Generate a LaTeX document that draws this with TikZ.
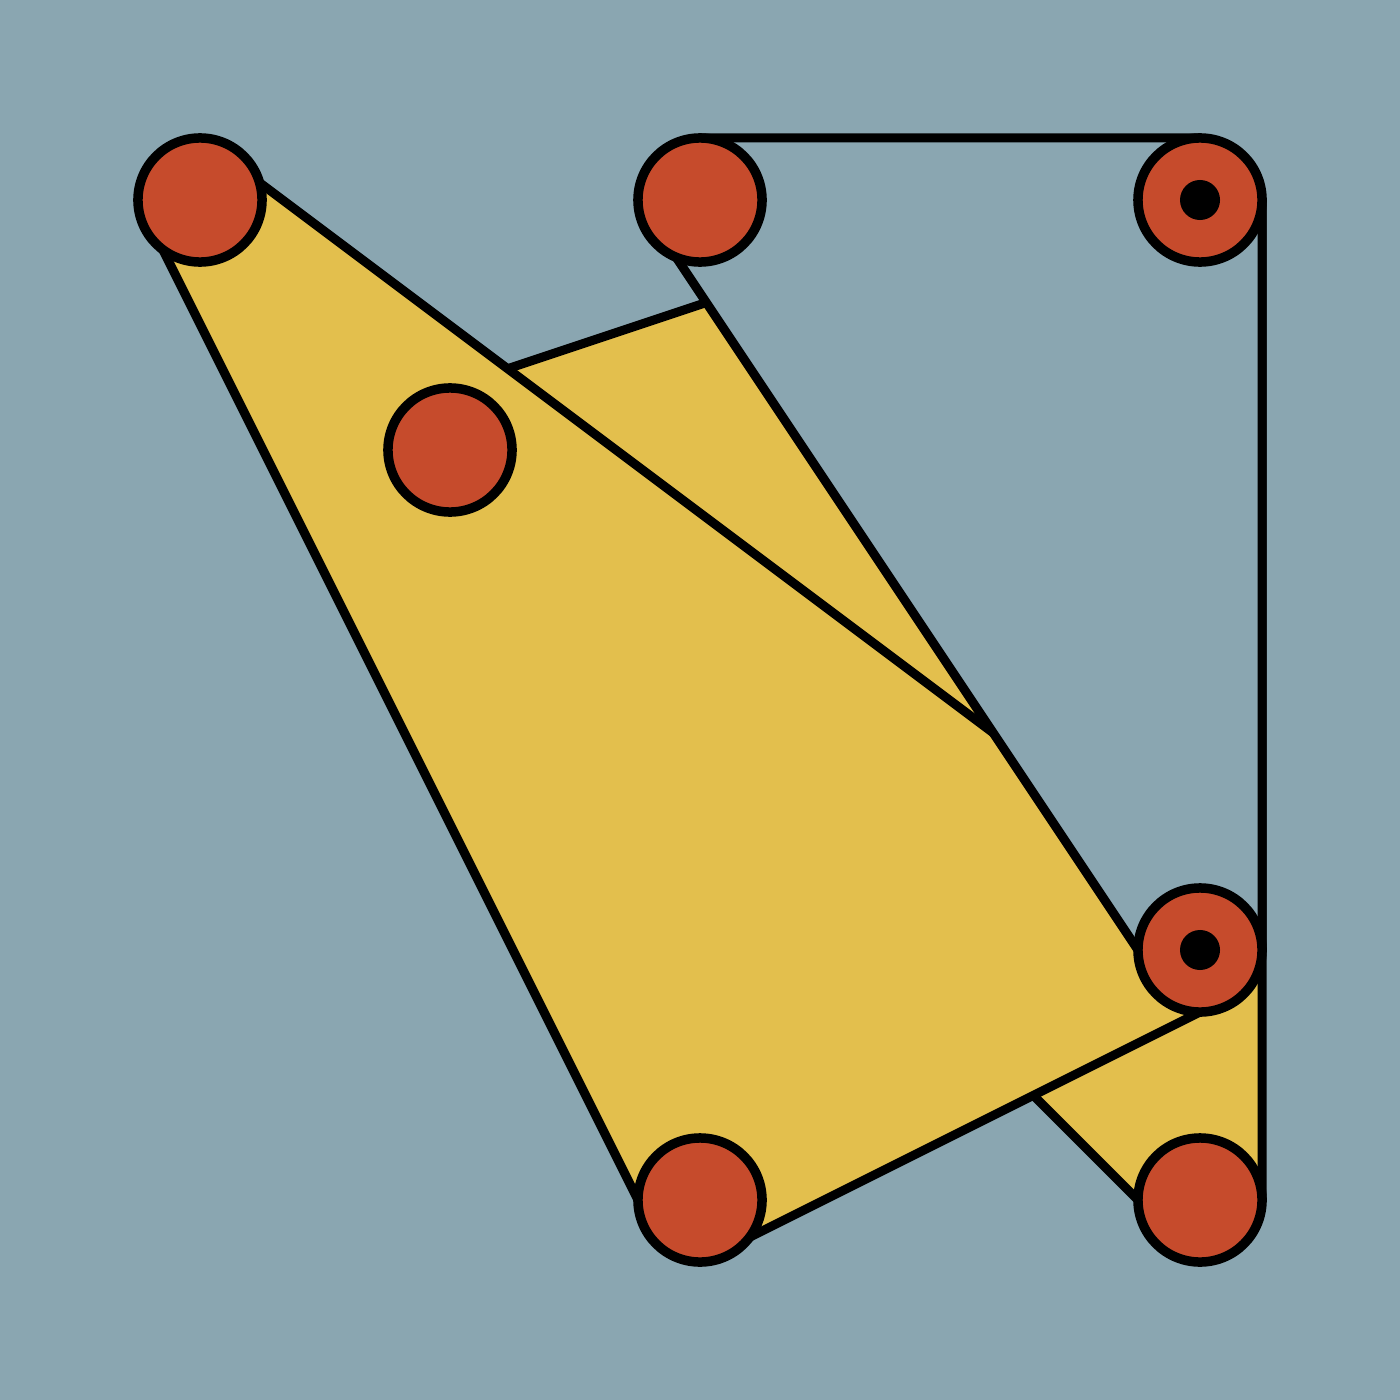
\documentclass[tikz,border=0pt]{standalone}
\definecolor{bgc}{RGB}{138,166,177}
\definecolor{yel}{RGB}{227,191,77}
\definecolor{redc}{RGB}{198,75,44}
\pgfdeclarelayer{back}
\pgfsetlayers{back,main}
\begin{document}
\begin{tikzpicture}[x=0.01cm,y=-0.01cm,line width=0.09cm,
  joint/.style={circle,draw=black,fill=redc,line width=0.095cm,minimum size=1.24cm,inner sep=0pt,outer sep=0pt},
  pinhole/.style={circle,fill=black,draw=none,minimum size=0.4cm,inner sep=0pt},
  plate/.style={draw=black,fill=yel,line width=0.09cm,line join=round},
  frame/.style={draw=black,fill=bgc,line width=0.09cm,line join=round}]
\useasboundingbox (0,0) rectangle (1400,1400);
\node[joint] (A) at (200,200) {};
\node[joint] (B) at (700,200) {};
\node[joint] (C) at (1200,200) {};
\node[joint] (D) at (450,450) {};
\node[joint] (E) at (1200,950) {};
\node[joint] (F) at (700,1200) {};
\node[joint] (G) at (1200,1200) {};
\node[pinhole] (Cp) at (C) {};
\node[pinhole] (Ep) at (E) {};
\begin{pgfonlayer}{back}
\fill[bgc] (0,0) rectangle (1400,1400);
\draw[plate] (D.north) -- (C.north) -- (C.east) -- (G.east) -- (G.south) -- (D.west) -- cycle;
\draw[plate] (A.north) -- (A.west) -- (F.west) -- (F.south) -- (E.south) -- (E.east) -- (E.north) -- cycle;
\draw[frame] (B.west) -- (B.north) -- (C.north) -- (C.east) -- (E.east) -- (E.south) -- (E.west) -- cycle;
\end{pgfonlayer}
\end{tikzpicture}
\end{document}
